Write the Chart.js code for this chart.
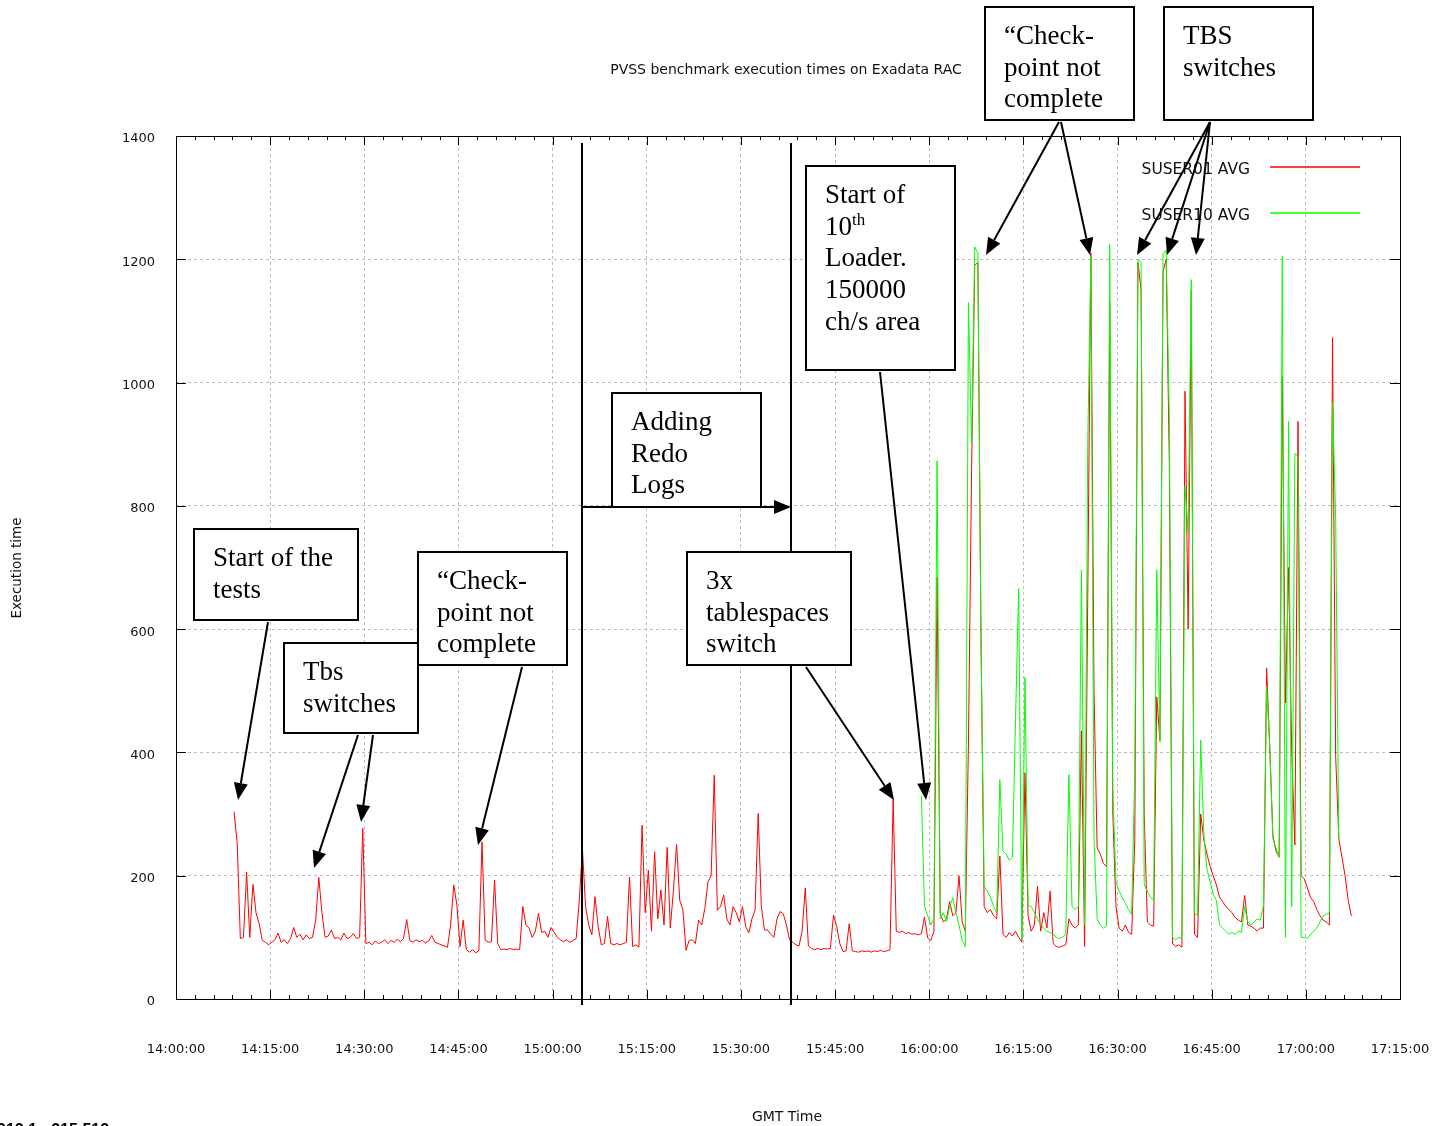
<!DOCTYPE html>
<html>
<head>
<meta charset="utf-8">
<title>PVSS benchmark execution times on Exadata RAC</title>
<script src="https://cdn.jsdelivr.net/npm/chart.js@4.4.1/dist/chart.umd.min.js"></script>
<style>
    html, body { margin: 0; padding: 0; background: #fff; }
    #wrap { position: relative; width: 1445px; height: 1126px; overflow: hidden; }
</style>
</head>
<body>
<div id="wrap"><canvas id="benchChart" width="1445" height="1126"></canvas></div>
<script>
// time axis: minutes after 14:00:00, one sample every 30 s
const timeStep = 0.5;

// SUSER01 AVG (red), starts 14:09:15
const suser01Start = 9.25;
const suser01Avg = [
    304, 253, 98, 100, 206, 100, 186, 140, 122, 95,
    92, 88, 92, 96, 107, 92, 96, 90, 98, 116,
    100, 105, 96, 104, 98, 100, 128, 197, 140, 100,
    102, 112, 98, 100, 96, 107, 98, 100, 106, 98,
    100, 277, 90, 92, 88, 94, 90, 92, 96, 90,
    95, 92, 97, 93, 98, 129, 95, 92, 96, 93,
    95, 91, 94, 103, 92, 90, 88, 86, 84, 120,
    185, 152, 85, 128, 80, 76, 80, 75, 78, 255,
    96, 92, 93, 193, 90, 80, 81, 80, 82, 80,
    81, 80, 150, 120, 115, 100, 110, 139, 108, 110,
    100, 116, 108, 100, 96, 93, 96, 92, 95, 98,
    160, 244, 150, 120, 104, 166, 118, 88, 90, 134,
    90, 88, 90, 88, 90, 92, 198, 85, 88, 84,
    282, 140, 209, 110, 239, 130, 177, 120, 246, 115,
    177, 251, 160, 145, 79, 95, 96, 90, 128, 120,
    147, 190, 200, 363, 144, 150, 169, 130, 120, 150,
    140, 125, 150, 118, 107, 130, 144, 301, 150, 112,
    112, 105, 100, 130, 142, 138, 120, 96, 92, 88,
    86, 110, 180, 86, 82, 80, 82, 80, 82, 81,
    82, 136, 118, 90, 77, 78, 122, 78, 77, 76,
    78, 77, 78, 76, 78, 77, 79, 77, 78, 80,
    324, 110, 108, 110, 106, 108, 105, 106, 104, 106,
    133, 99, 95, 110, 684, 140, 125, 130, 158, 135,
    140, 200, 125, 110, 417, 860, 1190, 1195, 583, 150,
    140, 145, 135, 130, 232, 105, 100, 108, 102, 110,
    100, 92, 367, 135, 110, 120, 183, 110, 140, 115,
    175, 90, 85, 84, 86, 88, 130, 120, 115, 120,
    435, 85, 650, 1210, 500, 245, 235, 220, 215, 1130,
    300, 150, 115, 110, 120, 108, 105, 260, 1195, 1150,
    300, 125, 120, 118, 490, 420, 1180, 1200, 870, 90,
    85, 88, 84, 986, 600, 1150, 105, 100, 300, 258,
    235, 215, 200, 185, 165, 158, 150, 145, 140, 132,
    128, 125, 168, 120, 118, 115, 110, 115, 115, 537,
    409, 265, 240, 230, 1010, 480, 700, 400, 250, 937,
    200, 195, 180, 165, 158, 145, 135, 128, 125, 120,
    1073, 394, 260, 230, 200, 160, 135
];

// SUSER10 AVG (green), starts 15:58:45
const suser10Start = 118.75;
const suser10Avg = [
    330, 150, 135, 120, 130, 873, 130, 140, 125, 150,
    164, 140, 120, 95, 85, 1130, 900, 1220, 1210, 580,
    183, 175, 165, 150, 140, 356, 240, 235, 225, 230,
    454, 666, 96, 522, 152, 150, 140, 130, 120, 115,
    110, 108, 105, 100, 98, 100, 105, 364, 150, 145,
    150, 696, 120, 900, 1205, 262, 130, 120, 115, 118,
    1224, 340, 190, 175, 165, 155, 145, 137, 372, 1200,
    1195, 185, 175, 165, 160, 696, 417, 1209, 1215, 945,
    100, 96, 100, 98, 832, 756, 1167, 140, 135, 420,
    266, 210, 190, 170, 160, 120, 115, 110, 105, 108,
    105, 110, 108, 150, 125, 120, 125, 130, 128, 152,
    507, 409, 260, 245, 230, 1205, 100, 937, 150, 885,
    880, 100, 100, 98, 105, 110, 115, 125, 135, 137,
    140, 968, 780, 258
];

const seriesNames = ['SUSER01 AVG', 'SUSER10 AVG'];
const seriesColors = ['#ff0000', '#00ff00'];
const yTicks = [0, 200, 400, 600, 800, 1000, 1200, 1400];
const xTickLabels = ['14:00:00', '14:15:00', '14:30:00', '14:45:00', '15:00:00', '15:15:00', '15:30:00',
    '15:45:00', '16:00:00', '16:15:00', '16:30:00', '16:45:00', '17:00:00', '17:15:00'];

// annotation boxes drawn over the plot (page coordinates)
const notes = [
    { box: [194, 529, 164, 91], lines: ['Start of the', 'tests'], arrows: [[268, 622, 238, 800]] },
    { box: [284, 643, 134, 90], lines: ['Tbs', 'switches'], arrows: [[358, 735, 314, 868], [373, 735, 361, 822]] },
    { box: [418, 552, 149, 113], lines: ['\u201cCheck-', 'point not', 'complete'], arrows: [[522, 667, 478, 845]] },
    { box: [612, 393, 149, 114], lines: ['Adding', 'Redo', 'Logs'], arrows: [] },
    { box: [687, 552, 164, 113], lines: ['3x', 'tablespaces', 'switch'], arrows: [[806, 667, 894, 800]] },
    { box: [806, 166, 149, 204], lines: ['Start of', '10^th', 'Loader.', '150000', 'ch/s area'], arrows: [[880, 372, 926, 800]] },
    { box: [985, 7, 149, 113], lines: ['\u201cCheck-', 'point not', 'complete'], arrows: [[1059, 122, 986, 255], [1061, 122, 1090, 255]] },
    { box: [1164, 7, 149, 113], lines: ['TBS', 'switches'], arrows: [[1210, 122, 1137, 255], [1210, 122, 1167, 255], [1210, 122, 1196, 255]] }
];

const sansFont = '"DejaVu Sans", sans-serif';
const serifFont = '"Liberation Serif", "Times New Roman", serif';

function toPoints(start, values) {
    return values.map((v, k) => ({ x: start + k * timeStep, y: v }));
}

function drawLine(ctx, x1, y1, x2, y2) {
    ctx.beginPath();
    ctx.moveTo(x1, y1);
    ctx.lineTo(x2, y2);
    ctx.stroke();
}

function drawArrow(ctx, x1, y1, x2, y2) {
    const ang = Math.atan2(y2 - y1, x2 - x1);
    const len = 17, half = 7;
    const bx = x2 - len * Math.cos(ang), by = y2 - len * Math.sin(ang);
    ctx.lineWidth = 2;
    drawLine(ctx, x1, y1, bx, by);
    ctx.beginPath();
    ctx.moveTo(x2, y2);
    ctx.lineTo(bx + half * Math.sin(ang), by - half * Math.cos(ang));
    ctx.lineTo(bx - half * Math.sin(ang), by + half * Math.cos(ang));
    ctx.closePath();
    ctx.fill();
}

const decorPlugin = {
    id: 'decor',
    afterDraw(chart) {
        const ctx = chart.ctx;
        const { left, right, top, bottom } = chart.chartArea;
        const xs = chart.scales.x, ys = chart.scales.y;
        ctx.save();
        ctx.strokeStyle = '#000';
        ctx.fillStyle = '#000';
        ctx.lineWidth = 1;

        // frame + inward ticks
        ctx.strokeRect(left + 0.5, top + 0.5, right - left, bottom - top);
        for (let m = 0; m <= 195; m += 3) {
            const px = Math.round(xs.getPixelForValue(m)) + 0.5;
            const len = m % 15 === 0 ? 9 : 4;
            drawLine(ctx, px, bottom, px, bottom - len);
            drawLine(ctx, px, top, px, top + len);
        }
        yTicks.forEach(v => {
            const py = Math.round(ys.getPixelForValue(v)) + 0.5;
            drawLine(ctx, left, py, left + 10, py);
            drawLine(ctx, right, py, right - 10, py);
        });

        // titles
        ctx.fillStyle = '#111';
        ctx.font = '14px ' + sansFont;
        ctx.textAlign = 'center';
        ctx.textBaseline = 'middle';
        ctx.fillText('PVSS benchmark execution times on Exadata RAC', 786, 70);
        ctx.fillText('GMT Time', 787, 1117);
        ctx.save();
        ctx.translate(17, 568);
        ctx.rotate(-Math.PI / 2);
        ctx.font = '13.5px ' + sansFont;
        ctx.fillText('Execution time', 0, 0);
        ctx.restore();

        // legend
        ctx.textAlign = 'right';
        ctx.font = '15.5px ' + sansFont;
        seriesNames.forEach((name, k) => {
            const ly = 170 + k * 46;
            ctx.fillStyle = '#111';
            ctx.fillText(name, 1250, ly);
            ctx.strokeStyle = seriesColors[k];
            ctx.lineWidth = 1.5;
            drawLine(ctx, 1270, ly - 3, 1360, ly - 3);
        });

        // footer fragment at bottom-left
        ctx.fillStyle = '#000';
        ctx.textAlign = 'left';
        ctx.textBaseline = 'alphabetic';
        ctx.font = 'bold 16px "Liberation Sans", Arial, sans-serif';
        ctx.fillText('912.1 - 215 512', -3, 1135);

        // marker lines for the redo log period
        ctx.strokeStyle = '#000';
        ctx.lineWidth = 2;
        drawLine(ctx, 582, 143, 582, 1005);
        drawLine(ctx, 791, 143, 791, 1005);
        drawArrow(ctx, 582, 507, 791, 507);

        // annotation boxes
        notes.forEach(n => {
            const [bx, by, bw, bh] = n.box;
            ctx.fillStyle = '#fff';
            ctx.fillRect(bx, by, bw, bh);
            ctx.strokeStyle = '#000';
            ctx.lineWidth = 2;
            ctx.strokeRect(bx, by, bw, bh);
            ctx.fillStyle = '#000';
            n.lines.forEach((t, k) => {
                const ty = by + 37 + k * 31.7;
                if (t.includes('^')) {
                    const [base, sup] = t.split('^');
                    ctx.font = '27px ' + serifFont;
                    ctx.fillText(base, bx + 19, ty);
                    const w = ctx.measureText(base).width;
                    ctx.font = '17px ' + serifFont;
                    ctx.fillText(sup, bx + 19 + w, ty - 10);
                } else {
                    ctx.font = '27px ' + serifFont;
                    ctx.fillText(t, bx + 19, ty);
                }
            });
            n.arrows.forEach(a => drawArrow(ctx, a[0], a[1], a[2], a[3]));
        });
        ctx.restore();
    }
};

const ctx = document.getElementById('benchChart').getContext('2d');
const benchChart = new Chart(ctx, {
    type: 'line',
    data: {
        datasets: [
            {
                label: seriesNames[0],
                data: toPoints(suser01Start, suser01Avg),
                borderColor: seriesColors[0],
                borderWidth: 1,
                pointRadius: 0,
                tension: 0,
                order: 2
            },
            {
                label: seriesNames[1],
                data: toPoints(suser10Start, suser10Avg),
                borderColor: seriesColors[1],
                borderWidth: 1,
                pointRadius: 0,
                tension: 0,
                order: 1
            }
        ]
    },
    options: {
        responsive: false,
        animation: false,
        events: [],
        layout: { padding: { top: 136, right: 45, left: 0, bottom: 0 } },
        plugins: {
            legend: { display: false },
            tooltip: { enabled: false },
            title: { display: false }
        },
        scales: {
            x: {
                type: 'linear',
                min: 0,
                max: 195,
                afterFit: s => { s.height = 127; s.paddingLeft = 0; s.paddingRight = 0; },
                afterBuildTicks: s => { s.ticks = xTickLabels.map((_, k) => ({ value: k * 15 })); },
                ticks: {
                    autoSkip: false,
                    maxRotation: 0,
                    padding: 43,
                    color: '#111',
                    font: { family: sansFont, size: 13 },
                    callback: (v, k) => xTickLabels[k]
                },
                grid: { color: '#bdbdbd', lineWidth: 1, drawTicks: false },
                border: { display: false, dash: [3, 3] }
            },
            y: {
                min: 0,
                max: 1400,
                afterFit: s => { s.width = 176; s.paddingTop = 0; s.paddingBottom = 0; },
                afterBuildTicks: s => { s.ticks = yTicks.map(v => ({ value: v })); },
                ticks: {
                    padding: 21,
                    labelOffset: 3,
                    color: '#111',
                    font: { family: sansFont, size: 13 },
                    callback: v => String(v)
                },
                grid: { color: '#bdbdbd', lineWidth: 1, drawTicks: false },
                border: { display: false, dash: [3, 3] }
            }
        }
    },
    plugins: [decorPlugin]
});
</script>
</body>
</html>
